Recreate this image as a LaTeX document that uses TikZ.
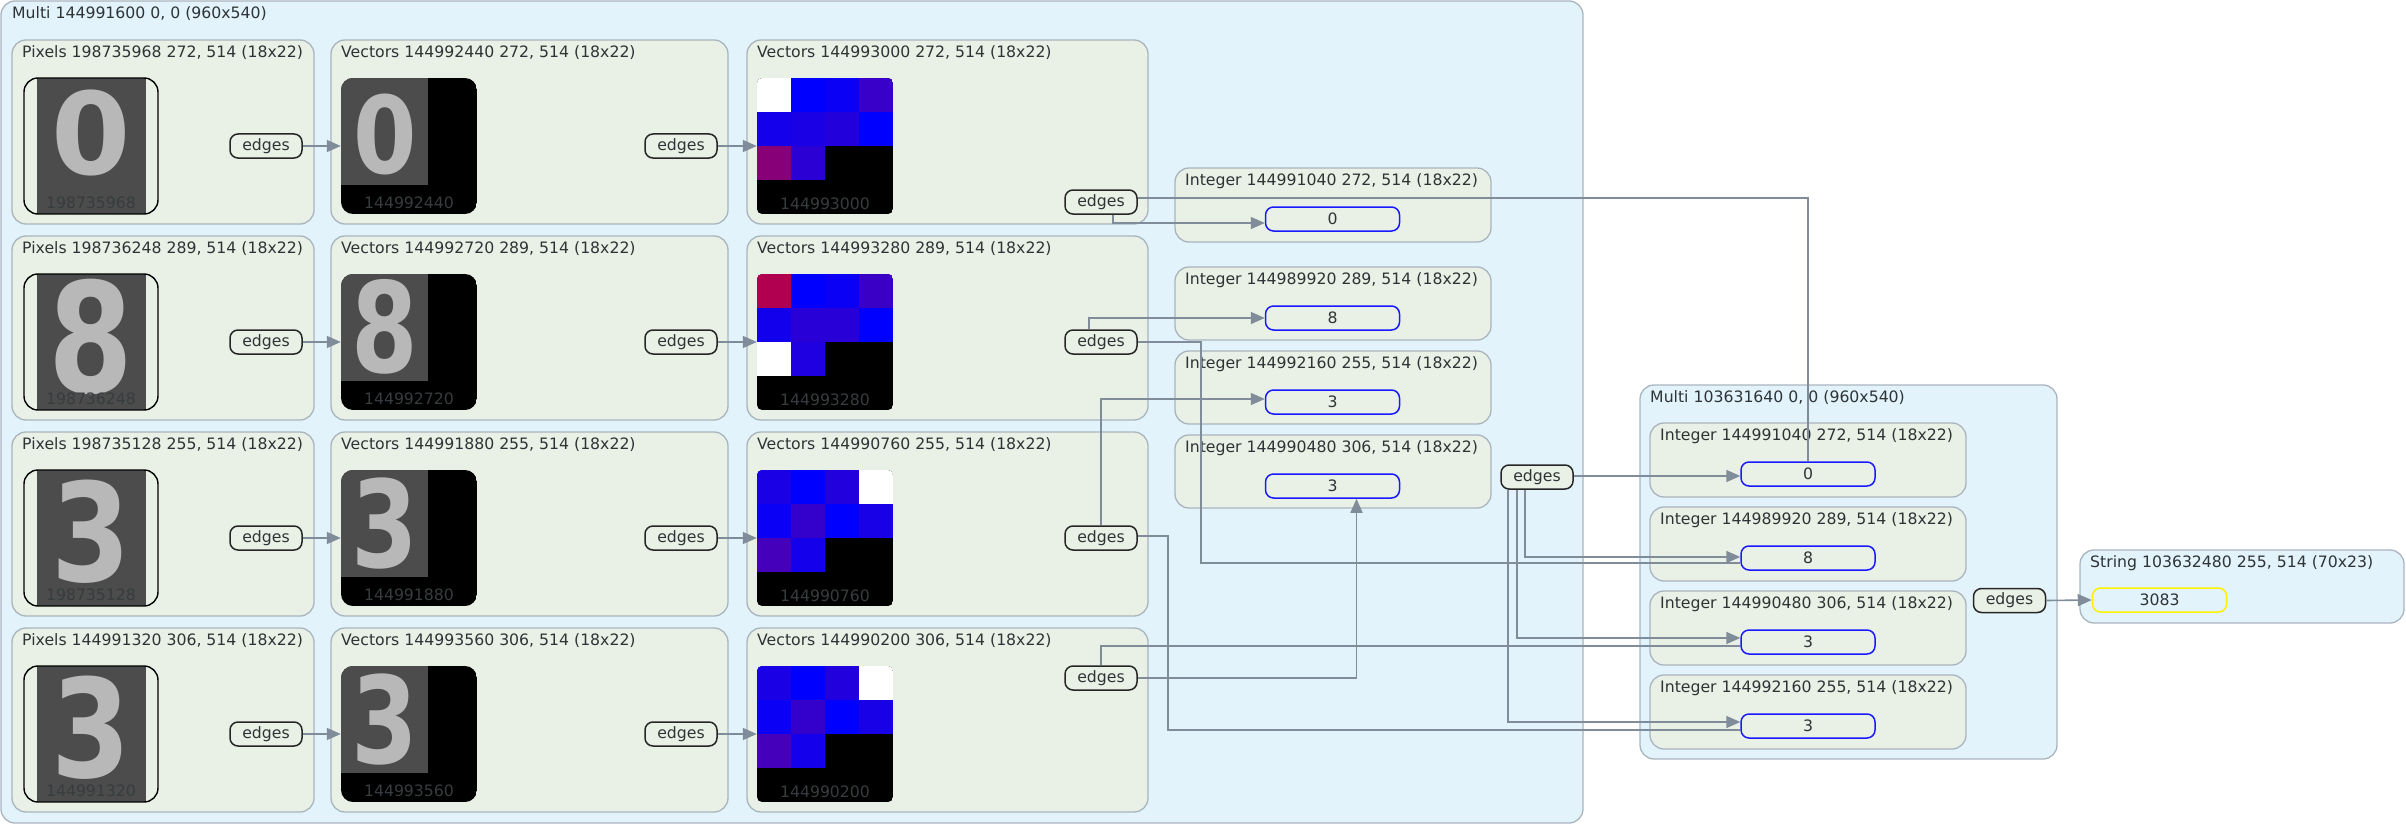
\documentclass[tikz,border=0pt]{standalone}
\usepackage{fontspec}
\setmainfont{DejaVu Sans}
\usetikzlibrary{arrows.meta}
\definecolor{multifill}{RGB}{226,243,251}
\definecolor{grpfill}{RGB}{233,241,230}
\definecolor{boxline}{RGB}{170,180,190}
\definecolor{connc}{RGB}{128,140,153}
\definecolor{txt}{RGB}{46,52,54}
\definecolor{valblue}{RGB}{25,25,255}
\definecolor{valyellow}{RGB}{255,240,0}
\definecolor{imggray}{RGB}{76,76,76}
\definecolor{digitc}{RGB}{184,184,184}
\definecolor{lbl}{RGB}{55,60,62}
\def\gridcellsa{0/0/FFFFFF,1/0/0000FF,2/0/0A00F6,3/0/3800C8,0/1/1400EB,1/1/1A00E4,2/1/2200DC,3/1/0000FF,0/2/870078,1/2/2A00D5}
\def\gridcellsb{0/0/B0004F,1/0/0000FF,2/0/0A00F6,3/0/3A00C6,0/1/1200ED,1/1/2800D7,2/1/2800D7,3/1/0000FF,0/2/FFFFFF,1/2/1E00E0}
\def\gridcellsc{0/0/1A00E5,1/0/0000FF,2/0/2200DD,3/0/FFFFFF,0/1/0A00F5,1/1/3300CC,2/1/0000FF,3/1/1800E7,0/2/4400BB,1/2/1400EB}
\def\gridcellsd{0/0/1A00E5,1/0/0000FF,2/0/2200DD,3/0/FFFFFF,0/1/0A00F5,1/1/3300CC,2/1/0000FF,3/1/1800E7,0/2/4400BB,1/2/1400EB}
\tikzset{
  multibox/.style={draw=boxline, fill=multifill, line width=1.3pt, rounded corners=14pt},
  grpbox/.style={draw=boxline, fill=grpfill, line width=1.3pt, rounded corners=14pt},
  title/.style={anchor=west, inner sep=0pt},
  edgenode/.style={draw=black!85, fill=grpfill, line width=1.5pt, rounded corners=8pt, minimum width=72pt, minimum height=24pt, inner sep=0pt},
  valnode/.style={draw=valblue, fill=grpfill, line width=1.5pt, rounded corners=8pt, minimum width=134pt, minimum height=24pt, inner sep=0pt},
  imgnode/.style={minimum width=136pt, minimum height=136pt, inner sep=0pt},
  pixframe/.style={draw=black, line width=1.4pt, rounded corners=14pt, minimum width=134pt, minimum height=136pt, inner sep=0pt},
  conn/.style={draw=connc, line width=1.6pt},
  arr/.style={-{Triangle[length=14pt,width=12pt]}},
  digit/.style={font=\fontsize{114}{114}\selectfont\bfseries, text=digitc, inner sep=0pt},
  imglabel/.style={text=lbl, inner sep=0pt},
}
\begin{document}
\begin{tikzpicture}[x=1pt, y=-1pt, every node/.style={font=\fontsize{15.7}{18}\selectfont, text=txt}]
\useasboundingbox (0,0) rectangle (2406,824);
% outer multi
\draw[multibox] (1,1) rectangle (1583,823);
\node[title] (m1t) at (12,14) {Multi 144991600 0, 0 (960x540)};
% rows
\foreach \rr/\ty/\pid/\vid/\wid/\cc/\dg/\pxs/\pys/\pdy/\vxs/\vys/\vdy in {
  a/40/198735968/144992440/144993000/272/0/1/1/93/0.8/0.94/94,
  b/236/198736248/144992720/144993280/289/8/1.07/1.34/101/0.84/1.1/91,
  c/432/198735128/144991880/144990760/255/3/1/1.2/100/0.84/1.06/92,
  d/628/144991320/144993560/144990200/306/3/1/1.2/100/0.84/1.06/92}{
  \draw[grpbox] (12,\ty) rectangle (314,\ty+184);
  \node[title] (tp\rr) at (22,\ty+13) {Pixels \pid\ \cc, 514 (18x22)};
  \draw[grpbox] (331,\ty) rectangle (728,\ty+184);
  \node[title] (tv\rr) at (341,\ty+13) {Vectors \vid\ \cc, 514 (18x22)};
  \draw[grpbox] (747,\ty) rectangle (1148,\ty+184);
  \node[title] (tw\rr) at (757,\ty+13) {Vectors \wid\ \cc, 514 (18x22)};
  % pixels image
  \fill[imggray] (37,\ty+38) rectangle (146,\ty+174);
  \node[digit, xscale=\pxs, yscale=\pys] (dp\rr) at (91,\ty+\pdy) {\dg};
  \node[imglabel] (lp\rr) at (91,\ty+163) {\pid};
  \node[pixframe] (p\rr) at (91,\ty+106) {};
  % vectors image
  \begin{scope}
    \clip[rounded corners=12pt] (341,\ty+38) rectangle (477,\ty+174);
    \fill[black] (341,\ty+38) rectangle (477,\ty+174);
    \fill[imggray] (341,\ty+38) rectangle (428,\ty+145);
  \end{scope}
  \node[digit, xscale=\vxs, yscale=\vys] (dv\rr) at (385,\ty+\vdy) {\dg};
  \node[imglabel] (lv\rr) at (409,\ty+163) {\vid};
  \node[imgnode] (v\rr) at (409,\ty+106) {};
  % colour grid
  \begin{scope}
    \clip[rounded corners=5pt] (757,\ty+38) rectangle (893,\ty+174);
    \fill[black] (757,\ty+38) rectangle (893,\ty+174);
    \edef\gl{\csname gridcells\rr\endcsname}
    \foreach \i/\j/\col in \gl {
      \edef\tmpdef{\noexpand\definecolor{cellc}{HTML}{\col}}\tmpdef
      \fill[cellc] ({757+34*\i},{\ty+38+34*\j}) rectangle ++(34,34);
    }
  \end{scope}
  \node[imglabel] (lw\rr) at (825,\ty+164) {\wid};
  \node[imgnode] (w\rr) at (825,\ty+106) {};
  % edges
  \node[edgenode] (ea\rr) at (266,\ty+106) {edges};
  \node[edgenode] (eb\rr) at (681,\ty+106) {edges};
  \draw[conn,arr] (ea\rr.east) -- (v\rr.west);
  \draw[conn,arr] (eb\rr.east) -- (w\rr.west);
}
% third-column edges
\node[edgenode] (eca) at (1101,202) {edges};
\node[edgenode] (ecb) at (1101,342) {edges};
\node[edgenode] (ecc) at (1101,538) {edges};
\node[edgenode] (ecd) at (1101,678) {edges};
% integers in first multi
\draw[grpbox] (1175,168) rectangle (1491,242);
\node[title] (ti0) at (1185,181) {Integer 144991040 272, 514 (18x22)};
\node[valnode] (iv0) at (1332.5,219) {0};
\draw[grpbox] (1175,267) rectangle (1491,340);
\node[title] (ti8) at (1185,280) {Integer 144989920 289, 514 (18x22)};
\node[valnode] (iv8) at (1332.5,318) {8};
\draw[grpbox] (1175,351) rectangle (1491,424);
\node[title] (ti3a) at (1185,364) {Integer 144992160 255, 514 (18x22)};
\node[valnode] (iv3a) at (1332.5,402) {3};
\draw[grpbox] (1175,435) rectangle (1491,508);
\node[title] (ti3b) at (1185,448) {Integer 144990480 306, 514 (18x22)};
\node[valnode] (iv3b) at (1332.5,486) {3};
\node[edgenode] (me1) at (1537,477) {edges};
% second multi
\draw[multibox] (1640,385) rectangle (2057,759);
\node[title] (m2t) at (1650,398) {Multi 103631640 0, 0 (960x540)};
\draw[grpbox] (1650,423) rectangle (1966,497);
\node[title] (tm0) at (1660,436) {Integer 144991040 272, 514 (18x22)};
\node[valnode] (mv0) at (1808,474) {0};
\draw[grpbox] (1650,507) rectangle (1966,581);
\node[title] (tm8) at (1660,520) {Integer 144989920 289, 514 (18x22)};
\node[valnode] (mv8) at (1808,558) {8};
\draw[grpbox] (1650,591) rectangle (1966,665);
\node[title] (tm3b) at (1660,604) {Integer 144990480 306, 514 (18x22)};
\node[valnode] (mv3b) at (1808,642) {3};
\draw[grpbox] (1650,675) rectangle (1966,749);
\node[title] (tm3a) at (1660,688) {Integer 144992160 255, 514 (18x22)};
\node[valnode] (mv3a) at (1808,726) {3};
\node[edgenode] (me2) at (2009.5,600.5) {edges};
% string
\draw[multibox] (2080,550) rectangle (2404,623);
\node[title] (ts) at (2090,563) {String 103632480 255, 514 (70x23)};
\node[valnode, draw=valyellow, fill=multifill] (sv) at (2159.5,600) {3083};
% connectors
\draw[conn,arr] ([xshift=12pt]eca.south) |- ([yshift=-4pt]iv0.west);
\draw[conn] ([yshift=4pt]eca.east) -| (mv0.north);
\draw[conn,arr] ([xshift=-12pt]ecb.north) |- (iv8.west);
\draw[conn] (ecb.east) -- ++(63,0) |- ([yshift=-5pt]mv8.west);
\draw[conn,arr] (ecc.north) |- ([yshift=3pt]iv3a.west);
\draw[conn] ([yshift=2pt]ecc.east) -- ++(30,0) |- ([yshift=-4pt]mv3a.west);
\draw[conn] (ecd.north) |- ([yshift=-4pt]mv3b.west);
\draw[conn,arr] (ecd.east) -| ([xshift=24pt]iv3b.south);
\draw[conn,arr] ([yshift=1pt]me1.east) -- ([yshift=-2pt]mv0.west);
\draw[conn,arr] ([xshift=-12pt]me1.south) |- ([yshift=1pt]mv8.west);
\draw[conn,arr] ([xshift=-20pt]me1.south) |- ([yshift=4pt]mv3b.west);
\draw[conn,arr] ([xshift=-29pt]me1.south) |- ([yshift=4pt]mv3a.west);
\draw[conn,arr] (me2.east) -- (sv.west);
\end{tikzpicture}
\end{document}
